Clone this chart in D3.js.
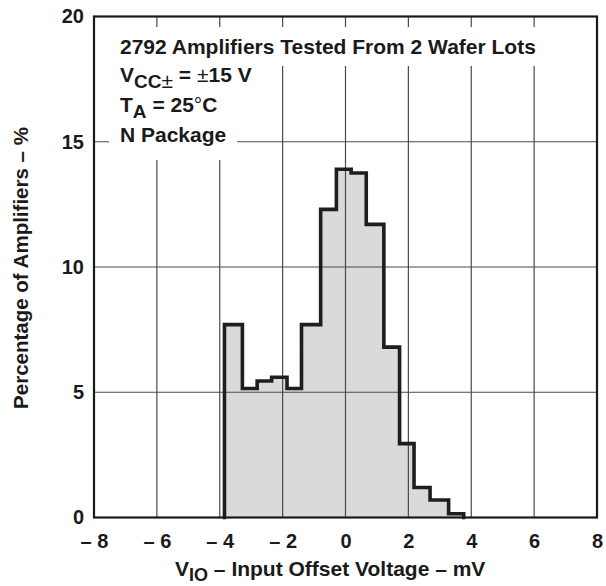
<!DOCTYPE html>
<html>
<head>
<meta charset="utf-8">
<script src="https://cdn.jsdelivr.net/npm/d3@7"></script>
<style>
	body { margin: 0; background: #fff; }
	text { font-family: "Liberation Sans", Arial, Helvetica, sans-serif; font-weight: bold; fill: #1a1a1a; }
</style>
</head>
<body>
<div id="chart"></div>
<script>
// Histogram data (bin edges in mV, heights in %)
var binEdges = [-3.85, -3.28, -2.81, -2.35, -1.86, -1.4, -0.79, -0.29, 0.18, 0.66, 1.22, 1.72, 2.18, 2.69, 3.28, 3.76];
var percents = [7.7, 5.15, 5.45, 5.6, 5.15, 7.7, 12.3, 13.9, 13.75, 11.7, 6.8, 2.95, 1.2, 0.7, 0.15];

// Axis ticks
var xTicks = [-8, -6, -4, -2, 0, 2, 4, 6, 8];
var yTicks = [0, 5, 10, 15, 20];

// Define margin and dimensions for svg
var margin = {top: 16.5, right: 9, bottom: 68.5, left: 94};
var width = 606 - margin.left - margin.right;
var height = 586 - margin.top - margin.bottom;

var svg = d3.select("div#chart").append("svg")
	.attr("width", 606)
	.attr("height", 586);

var g = svg.append("g")
	.attr("transform", "translate(" + margin.left + "," + margin.top + ")");

var x = d3.scaleLinear().domain([-8, 8]).range([0, width]);
var y = d3.scaleLinear().domain([0, 20]).range([height, 0]);

// Histogram as a step outline
var pts = [[binEdges[0], 0]];
percents.forEach(function(p, i) {
	pts.push([binEdges[i], p]);
	pts.push([binEdges[i + 1], p]);
});
pts.push([binEdges[binEdges.length - 1], 0]);

var line = d3.line().x(d => x(d[0])).y(d => y(d[1]));

g.append("path")
	.attr("d", line(pts) + "Z")
	.attr("fill", "#d9dadc")
	.attr("stroke", "none");

// Grid lines (drawn over the fill)
g.append("g")
	.selectAll("line")
	.data(xTicks.slice(1, -1))
	.enter().append("line")
	.attr("x1", d => x(d)).attr("x2", d => x(d))
	.attr("y1", 0).attr("y2", height)
	.attr("stroke", "#4a4a4a").attr("stroke-width", 1.2);
g.append("g")
	.selectAll("line")
	.data(yTicks.slice(1, -1))
	.enter().append("line")
	.attr("x1", 0).attr("x2", width)
	.attr("y1", d => y(d)).attr("y2", d => y(d))
	.attr("stroke", "#4a4a4a").attr("stroke-width", 1.2);

g.append("path")
	.attr("d", line(pts))
	.attr("fill", "none")
	.attr("stroke", "#1e1e1e")
	.attr("stroke-width", 3.6)
	.attr("stroke-linejoin", "miter")
	.attr("stroke-linecap", "square");

// Frame
g.append("rect")
	.attr("width", width).attr("height", height)
	.attr("fill", "none")
	.attr("stroke", "#1a1a1a")
	.attr("stroke-width", 2.2);

// Axes labels
var xAxis = d3.axisBottom(x).tickValues(xTicks).tickSize(0)
	.tickFormat(d => d < 0 ? "\u2013 " + Math.abs(d) : d);
g.append("g")
	.attr("transform", "translate(0," + height + ")")
	.call(xAxis)
	.call(a => a.select(".domain").remove())
	.selectAll("text")
	.attr("y", 16)
	.attr("dy", "0.71em")
	.attr("font-size", 20);

var yAxis = d3.axisLeft(y).tickValues(yTicks).tickSize(0);
g.append("g")
	.call(yAxis)
	.call(a => a.select(".domain").remove())
	.selectAll("text")
	.attr("x", -10)
	.attr("font-size", 20);

svg.selectAll(".tick text").attr("fill", "#1a1a1a").attr("font-family", null);

// Axis titles
var xt = svg.append("text")
	.attr("x", 175)
	.attr("y", 576)
	.attr("font-size", 21);
xt.append("tspan").text("V");
xt.append("tspan").attr("dy", 5).attr("font-size", 18).text("IO");
xt.append("tspan").attr("dy", -5).text(" \u2013 Input Offset Voltage \u2013 mV");

svg.append("text")
	.attr("transform", "translate(28,268) rotate(-90)")
	.attr("text-anchor", "middle")
	.attr("font-size", 20.5)
	.text("Percentage of Amplifiers \u2013 %");

// Annotation block, each line on a white box
var notes = svg.append("g");
var boxes = notes.append("g");
var baselines = [54, 82, 112, 142];
var bands = [[27, 66], [66, 96], [96, 126], [126, 160]];

var t1 = notes.append("text").attr("x", 120).attr("y", baselines[0]).attr("font-size", 21)
	.text("2792 Amplifiers Tested From 2 Wafer Lots");

var t2 = notes.append("text").attr("x", 120).attr("y", baselines[1]).attr("font-size", 21);
t2.append("tspan").text("V");
t2.append("tspan").attr("dy", 6).attr("font-size", 19).text("CC");
t2.append("tspan").attr("font-size", 21).attr("font-weight", "normal").text("\u00b1");
t2.append("tspan").attr("dy", -6).text(" = ");
t2.append("tspan").attr("font-weight", "normal").text("\u00b1");
t2.append("tspan").text("15 V");

var t3 = notes.append("text").attr("x", 120).attr("y", baselines[2]).attr("font-size", 21);
t3.append("tspan").text("T");
t3.append("tspan").attr("dy", 6).attr("font-size", 19).text("A");
t3.append("tspan").attr("dy", -6).text(" = 25");
t3.append("tspan").attr("font-weight", "normal").text("\u00b0");
t3.append("tspan").text("C");

var t4 = notes.append("text").attr("x", 120).attr("y", baselines[3]).attr("font-size", 21)
	.text("N Package");

[t1, t2, t3, t4].forEach(function(t, i) {
	var b = t.node().getBBox();
	boxes.append("rect")
		.attr("x", b.x - 11)
		.attr("y", bands[i][0])
		.attr("width", b.width + 22)
		.attr("height", bands[i][1] - bands[i][0])
		.attr("fill", "#fff");
});
</script>
</body>
</html>
